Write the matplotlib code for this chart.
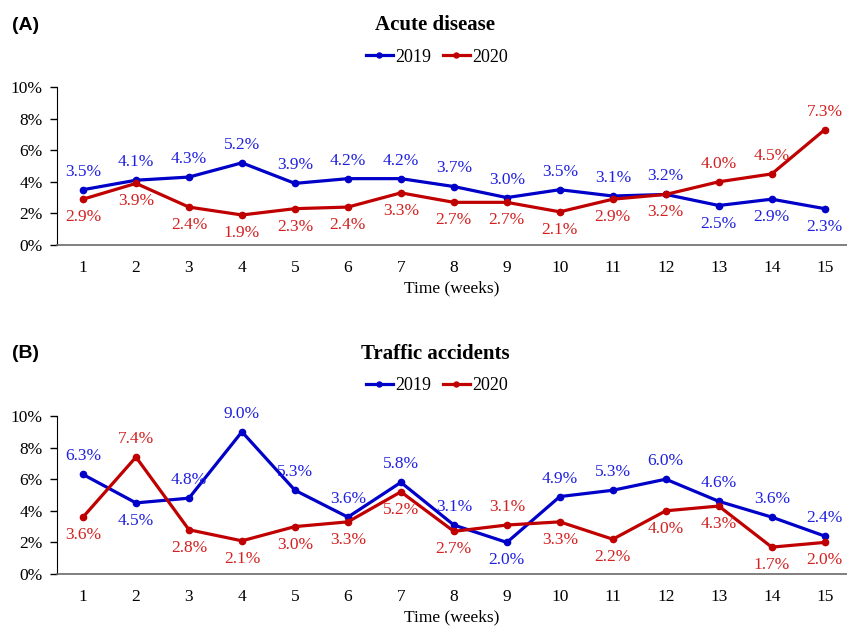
import matplotlib
matplotlib.use("Agg")
import matplotlib.pyplot as plt
from matplotlib.ticker import FuncFormatter

plt.rcParams['font.family'] = ['Liberation Serif', 'DejaVu Serif']

weeks = list(range(1, 16))

acute_2019 = [3.5, 4.1, 4.3, 5.2, 3.9, 4.2, 4.2, 3.7, 3.0, 3.5, 3.1, 3.2, 2.5, 2.9, 2.3]
acute_2020 = [2.9, 3.9, 2.4, 1.9, 2.3, 2.4, 3.3, 2.7, 2.7, 2.1, 2.9, 3.2, 4.0, 4.5, 7.3]
# label placement: 1 = above, -1 = below
acute_2019_pos = [1]*12 + [-1]*3
acute_2020_pos = [-1]*12 + [1]*3

traffic_2019 = [6.3, 4.5, 4.8, 9.0, 5.3, 3.6, 5.8, 3.1, 2.0, 4.9, 5.3, 6.0, 4.6, 3.6, 2.4]
traffic_2020 = [3.6, 7.4, 2.8, 2.1, 3.0, 3.3, 5.2, 2.7, 3.1, 3.3, 2.2, 4.0, 4.3, 1.7, 2.0]
traffic_2019_pos = [1, -1, 1, 1, 1, 1, 1, 1, -1, 1, 1, 1, 1, 1, 1]
traffic_2020_pos = [-1, 1, -1, -1, -1, -1, -1, -1, 1, -1, -1, -1, -1, -1, -1]

yticks = [0, 2, 4, 6, 8, 10]

BLUE = '#0000C8'
BLUE_T = '#2020E0'
RED = '#C00000'
RED_T = '#D42020'

W, H = 847, 626
fig = plt.figure(figsize=(W/100, H/100), dpi=100)


def panel(bottom_px, title, tag, d19, d20, p19, p20):
    left = 56.5
    ax = fig.add_axes([left/W, bottom_px/H, (W-left)/W, 158/H])
    ax.plot(weeks, d19, color=BLUE, lw=2.3, marker='o', ms=4.5, label='2019', zorder=3)
    ax.plot(weeks, d20, color=RED, lw=2.3, marker='o', ms=4.5, label='2020', zorder=3)
    for x, v, p in zip(weeks, d19, p19):
        ax.annotate(f'{v:.1f}%', (x, v), xytext=(0, 13*p), textcoords='offset points',
                    ha='center', va='center', color=BLUE_T, fontsize=12.5)
    for x, v, p in zip(weeks, d20, p20):
        ax.annotate(f'{v:.1f}%', (x, v), xytext=(0, 13*p), textcoords='offset points',
                    ha='center', va='center', color=RED_T, fontsize=12.5)
    ax.set_xlim(0.5, 15.42)
    ax.set_ylim(0, 10)
    ax.set_yticks(yticks)
    ax.yaxis.set_major_formatter(FuncFormatter(lambda v, _: f'{v:.0f}%'))
    ax.set_xticks(weeks)
    ax.tick_params(axis='x', length=0, pad=11, labelsize=12.5)
    ax.tick_params(axis='y', length=5, width=1, direction='out', pad=5, labelsize=12.5)
    for s in ['top', 'right']:
        ax.spines[s].set_visible(False)
    ax.spines['left'].set_color('black')
    ax.spines['bottom'].set_color('#6a6a6a')
    ax.spines['bottom'].set_linewidth(1.2)
    ax.set_xlabel('Time (weeks)', fontsize=12.5, labelpad=3)
    top_px = H - (bottom_px + 158)
    fig.text(435/W, 1 - (top_px - 62)/H, title, ha='center', va='center',
             fontsize=15, fontweight='bold')
    fig.text(12/W, 1 - (top_px - 62)/H, tag, ha='left', va='center',
             fontsize=14, fontweight='bold', family=['Liberation Sans', 'DejaVu Sans'])
    fig.legend(handles=ax.get_lines()[:2], loc='center', ncol=2,
               bbox_to_anchor=(437/W, 1 - (top_px - 30)/H), frameon=False,
               fontsize=13, handlelength=1.5, handletextpad=0.15, columnspacing=0.6,
               markerscale=0.8)
    return ax


panel(381, 'Acute disease', '(A)', acute_2019, acute_2020, acute_2019_pos, acute_2020_pos)
panel(52, 'Traffic accidents', '(B)', traffic_2019, traffic_2020, traffic_2019_pos, traffic_2020_pos)

fig.savefig('out.png', dpi=100)
